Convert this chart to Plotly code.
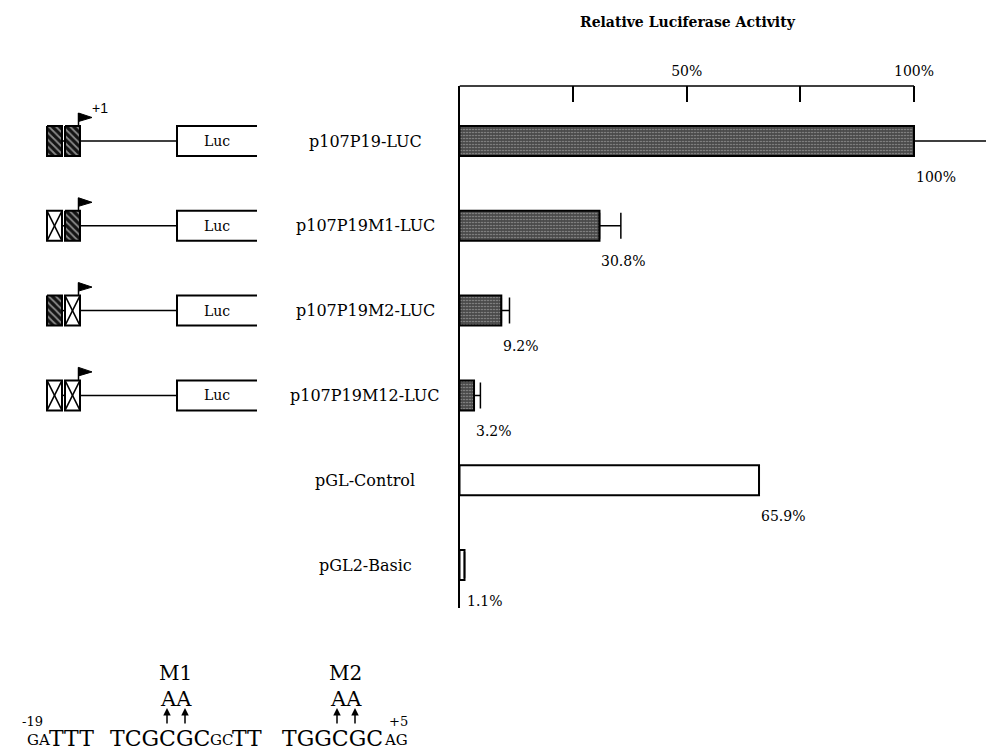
import plotly.graph_objects as go

# ---------------- data ----------------
constructs = ["p107P19-LUC", "p107P19M1-LUC", "p107P19M2-LUC",
              "p107P19M12-LUC", "pGL-Control", "pGL2-Basic"]
activity = [100, 30.8, 9.2, 3.2, 65.9, 1.1]
error_plus = [20, 4.7, 1.8, 1.4, 0, 0]
value_labels = ["100%", "30.8%", "9.2%", "3.2%", "65.9%", "1.1%"]
bar_fill = ["#4a4a4a", "#4a4a4a", "#4a4a4a", "#4a4a4a", "white", "white"]
bar_pattern = [".", ".", ".", ".", "", ""]
tick_vals = [25, 50, 75, 100]
tick_text = ["", "50%", "", "100%"]
# promoter elements per construct: True = wild type (hatched), False = mutated (X)
sites = [[True, True], [False, True], [True, False], [False, False]]
seq_segments = ["GA", "TTT", "TCGCGC", "GC", "TT", "TGGCGC", "AG"]
seq_large = [False, True, True, False, True, True, False]
mut_labels = ["M1", "M2"]
mut_base = "AA"

# ---------------- geometry (pixels) ----------------
W, H = 986, 753
X0_PX, X100_PX = 459.5, 914.0
PX_PER = (X100_PX - X0_PX) / 100.0
Y_TOP_PX, Y_BOT_PX = 86.0, 608.0
ROW0_PX, ROW_STEP = 141.0, 84.8
y_top = -(ROW0_PX - Y_TOP_PX) / ROW_STEP
y_bot = y_top + (Y_BOT_PX - Y_TOP_PX) / ROW_STEP
x_max = (W - X0_PX) / PX_PER
BAR_W = 30.0 / ROW_STEP


def row_px(i):
    return ROW0_PX + ROW_STEP * i


SERIF = "DejaVu Serif"
fig = go.Figure()

# ---------------- bars ----------------
fig.add_trace(go.Bar(
    x=activity, y=list(range(len(constructs))), orientation="h",
    width=BAR_W,
    marker=dict(color=bar_fill, line=dict(color="black", width=2),
                pattern=dict(shape=bar_pattern, fgcolor="#9a9a9a", size=3,
                             solidity=0.2)),
    error_x=dict(type="data", array=error_plus, arrayminus=[0] * len(activity),
                 symmetric=False, color="black", thickness=1.5, width=13),
    hoverinfo="skip", showlegend=False,
))

annotations = []
for i, (name, v, lab) in enumerate(zip(constructs, activity, value_labels)):
    annotations.append(dict(x=365, y=i, xref="x2", yref="y", text=name,
                            showarrow=False, xanchor="center", yanchor="middle",
                            font=dict(family=SERIF, size=16, color="black")))
    annotations.append(dict(x=v, y=i + 0.42, xref="x", yref="y", text=lab,
                            showarrow=False, xanchor="left", yanchor="middle",
                            font=dict(family=SERIF, size=14, color="black")))

annotations.append(dict(x=688, y=22, xref="x2", yref="y2",
                        text="<b>Relative Luciferase Activity</b>", showarrow=False,
                        xanchor="center", yanchor="middle",
                        font=dict(family=SERIF, size=14, color="black")))

shapes = []
# top axis line from 0 to 100%
shapes.append(dict(type="line", xref="x", yref="y domain", x0=0, x1=100, y0=1, y1=1,
                   line=dict(color="black", width=1.5)))

# ---------------- construct diagrams ----------------
hx, hy = [], []
box_x = [(47, 62), (65, 80)]
for i, row in enumerate(sites):
    c = row_px(i)
    for (x0, x1), wt in zip(box_x, row):
        if wt:
            hx += [x0, x1, x1, x0, x0, None]
            hy += [c - 15, c - 15, c + 15, c + 15, c - 15, None]
        else:
            shapes.append(dict(type="rect", xref="x2", yref="y2", x0=x0, x1=x1,
                               y0=c - 15, y1=c + 15, fillcolor="white",
                               line=dict(color="black", width=2)))
            shapes.append(dict(type="line", xref="x2", yref="y2", x0=x0, x1=x1,
                               y0=c - 15, y1=c + 15, line=dict(color="black", width=1.5)))
            shapes.append(dict(type="line", xref="x2", yref="y2", x0=x0, x1=x1,
                               y0=c + 15, y1=c - 15, line=dict(color="black", width=1.5)))
    shapes.append(dict(type="line", xref="x2", yref="y2", x0=62, x1=65, y0=c, y1=c,
                       line=dict(color="black", width=1.5)))
    shapes.append(dict(type="line", xref="x2", yref="y2", x0=80, x1=177, y0=c, y1=c,
                       line=dict(color="black", width=1.5)))
    shapes.append(dict(type="path", xref="x2", yref="y2",
                       path=f"M257,{c-15} L177,{c-15} L177,{c+15} L257,{c+15}",
                       line=dict(color="black", width=2)))
    annotations.append(dict(x=217, y=c, xref="x2", yref="y2", text="Luc",
                            showarrow=False, xanchor="center", yanchor="middle",
                            font=dict(family=SERIF, size=14, color="black")))
    # transcription start flag
    shapes.append(dict(type="line", xref="x2", yref="y2", x0=78.5, x1=78.5,
                       y0=c - 15, y1=c - 28, line=dict(color="black", width=1.5)))
    shapes.append(dict(type="path", xref="x2", yref="y2",
                       path=f"M78.5,{c-28} L92,{c-23.5} L78.5,{c-19.5} Z",
                       fillcolor="black", line=dict(color="black", width=1)))
    if i == 0:
        annotations.append(dict(x=90, y=c - 33, xref="x2", yref="y2", text="+1",
                                showarrow=False, xanchor="left", yanchor="middle",
                                font=dict(family="Liberation Sans", size=14, color="black")))

fig.add_trace(go.Scatter(x=hx, y=hy, xaxis="x2", yaxis="y2", mode="lines",
                         fill="toself", fillcolor="#1a1a1a",
                         fillpattern=dict(shape="\\", bgcolor="#141414", fgcolor="white",
                                          size=5, solidity=0.35),
                         line=dict(color="black", width=2),
                         hoverinfo="skip", showlegend=False))

# ---------------- sequence ----------------
seq_x = [25, 47, 108, 208, 230, 280, 382]
for sx, s, big in zip(seq_x, seq_segments, seq_large):
    bottom_px = 752.5 if big else 751.0
    annotations.append(dict(x=sx, y=1 - bottom_px / H, xref="x2", yref="paper", text=s,
                            showarrow=False, xanchor="left", yanchor="bottom",
                            font=dict(family=SERIF, size=22 if big else 15, color="black")))
annotations.append(dict(x=32, y=721, xref="x2", yref="y2", text="-19", showarrow=False,
                        xanchor="center", yanchor="middle",
                        font=dict(family=SERIF, size=13, color="black")))
annotations.append(dict(x=398, y=721, xref="x2", yref="y2", text="+5", showarrow=False,
                        xanchor="center", yanchor="middle",
                        font=dict(family=SERIF, size=13, color="black")))
for lab, cx in zip(mut_labels, [175, 345]):
    annotations.append(dict(x=cx, y=673, xref="x2", yref="y2", text=lab, showarrow=False,
                            xanchor="center", yanchor="middle",
                            font=dict(family=SERIF, size=20, color="black")))
    annotations.append(dict(x=cx + 1, y=699, xref="x2", yref="y2", text=mut_base,
                            showarrow=False, xanchor="center", yanchor="middle",
                            font=dict(family=SERIF, size=21, color="black")))
    for ax_ in (cx - 8, cx + 10):
        annotations.append(dict(x=ax_, y=708, xref="x2", yref="y2", ax=ax_, ay=725,
                                axref="x2", ayref="y2", text="", showarrow=True,
                                arrowhead=2, arrowsize=1, arrowwidth=1.5,
                                arrowcolor="black"))

fig.update_layout(
    width=W, height=H, autosize=False,
    margin=dict(l=0, r=0, t=0, b=0),
    paper_bgcolor="white", plot_bgcolor="rgba(0,0,0,0)",
    xaxis=dict(domain=[X0_PX / W, 1], range=[0, x_max], side="top",
               tickvals=tick_vals, ticktext=tick_text, ticks="inside", ticklen=16,
               tickwidth=1.5, tickcolor="black", showline=False, showgrid=False,
               zeroline=False, tickfont=dict(family=SERIF, size=14, color="black"),
               ticklabelstandoff=6, anchor="y"),
    yaxis=dict(domain=[1 - Y_BOT_PX / H, 1 - Y_TOP_PX / H], range=[y_bot, y_top],
               showline=True, linecolor="black", linewidth=1.5, showgrid=False,
               zeroline=False, showticklabels=False, ticks="", anchor="x"),
    xaxis2=dict(domain=[0, 1], range=[0, W], visible=False, anchor="y2"),
    yaxis2=dict(domain=[0, 1], range=[H, 0], visible=False, anchor="x2"),
    shapes=shapes, annotations=annotations,
    font=dict(family=SERIF, color="black"),
)

fig.write_html("out.html", config={"displayModeBar": False},
               post_script="document.body.style.margin='0px';document.body.style.overflow='hidden';")
